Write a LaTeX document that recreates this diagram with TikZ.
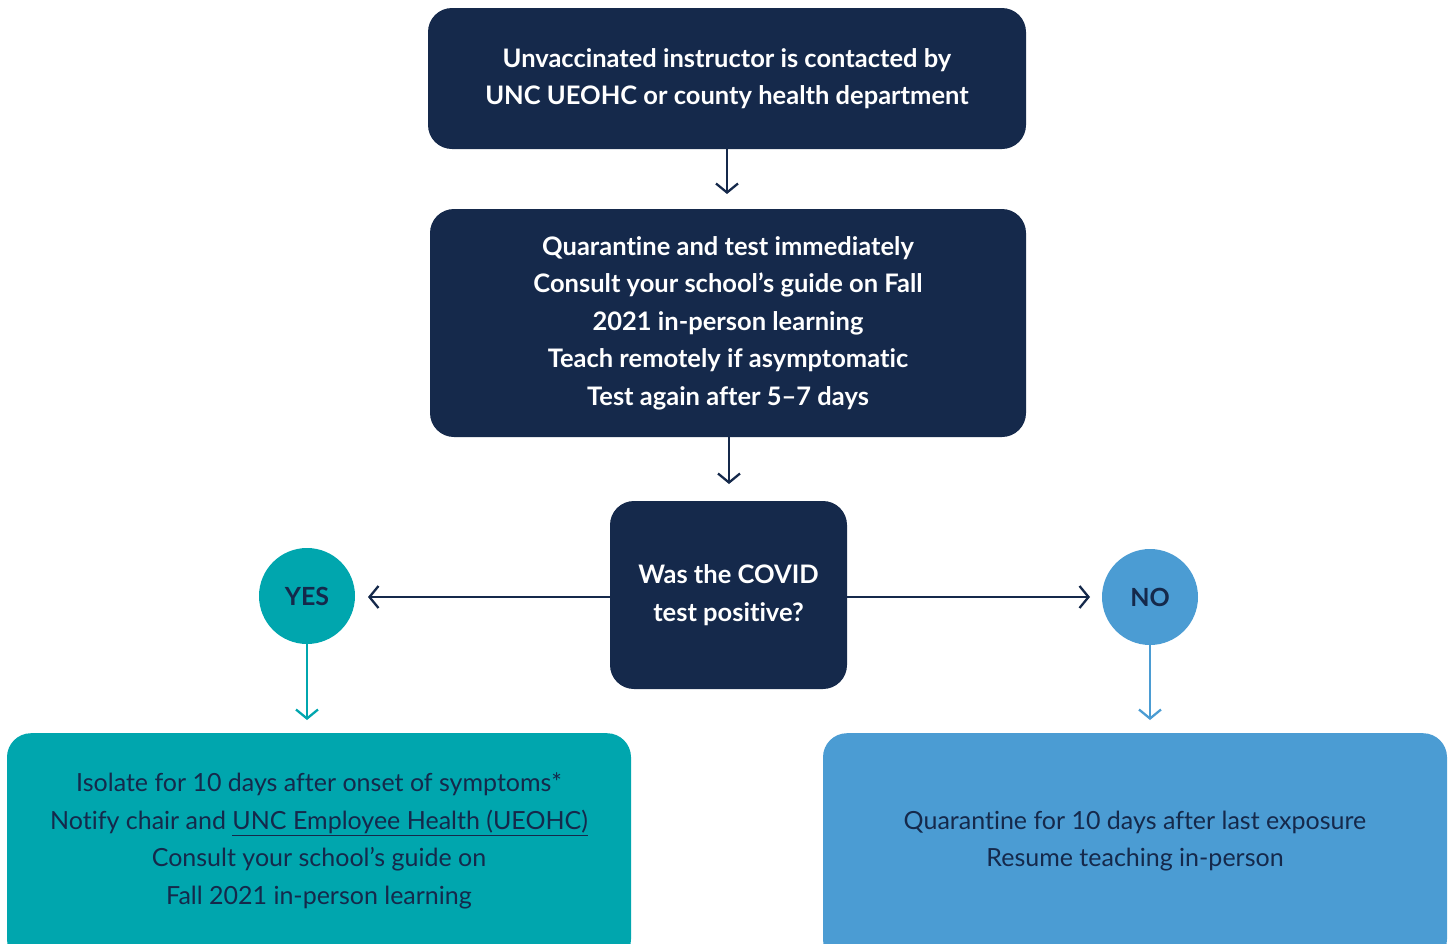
\documentclass[tikz,border=0pt]{standalone}
\usepackage{fontspec}
\setmainfont{Lato}[Ligatures=NoCommon]
\usetikzlibrary{arrows.meta}
\definecolor{navy}{HTML}{15294B}
\definecolor{teal}{HTML}{00A6AE}
\definecolor{cblue}{HTML}{4B9CD3}
\begin{document}
\begin{tikzpicture}[x=1pt,y=-1pt,
  darkbox/.style={fill=navy,rounded corners=24pt,text=white,font=\fontsize{25.5}{37.5}\selectfont\bfseries,align=center,inner sep=0pt},
  lowbox/.style={rounded corners=24pt,inner sep=0pt},
  lowtext/.style={text=navy,font=\fontsize{25}{37.5}\selectfont,align=center,inner sep=0pt},
  circ/.style={circle,minimum size=96pt,inner sep=0pt,text=navy,font=\fontsize{25}{28}\selectfont\bfseries},
  conn/.style={line width=2.3pt,-{Straight Barb[length=9pt,width=22pt,line width=2.3pt]}}
]
\useasboundingbox (0,0) rectangle (1452,943);
\clip (0,0) rectangle (1452,943);
\node[darkbox,minimum width=598pt,minimum height=141pt] (b1) at (727,78.5)
  {Unvaccinated instructor is contacted by\\UNC UEOHC or county health department};
\node[darkbox,minimum width=596pt,minimum height=228pt] (b2) at (728,323)
  {Quarantine and test immediately\\Consult your school’s guide on Fall\\2021 in-person learning\\Teach remotely if asymptomatic\\Test again after 5--7 days};
\node[darkbox,minimum width=237pt,minimum height=188pt] (b3) at (728.5,595)
  {Was the COVID\\test positive?};
\node[circ,fill=teal] (yes) at (307,596) {YES};
\node[circ,fill=cblue] (no) at (1150,597) {NO};
\node[lowbox,fill=teal,minimum width=624pt,minimum height=230pt,anchor=north] (lb) at (319,733) {};
\node[lowbox,fill=cblue,minimum width=624pt,minimum height=230pt,anchor=north] (rb) at (1135,733) {};
\node[lowtext] (lt) at (319,841)
  {Isolate for 10 days after onset of symptoms*\\Notify chair and \underline{UNC Employee Health (UEOHC)}\\Consult your school’s guide on\\Fall 2021 in-person learning};
\node[lowtext] (rt) at (1135,841)
  {Quarantine for 10 days after last exposure\\Resume teaching in-person};
\coordinate (a1) at (727,194);
\coordinate (a2) at (729,484);
\coordinate (ay) at (368,597);
\coordinate (an) at (1090,597);
\coordinate (dy) at (307,720);
\coordinate (dn) at (1150,720);
\draw[conn,navy] (b1.south -| a1) -- (a1);
\draw[conn,navy] (b2.south -| a2) -- (a2);
\draw[conn,navy] (b3.west |- ay) -- (ay);
\draw[conn,navy] (b3.east |- an) -- (an);
\draw[conn,teal] (yes.south) -- (dy);
\draw[conn,cblue] (no.south) -- (dn);
\end{tikzpicture}
\end{document}
